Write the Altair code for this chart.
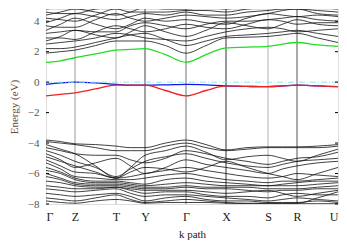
import altair as alt
import pandas as pd

# k-path positions (cumulative path length) and labels
k_pos = [0, 29, 70, 99, 140, 180, 222, 251, 292]
k_lab = ["Γ", "Z", "T", "Y", "Γ", "X", "S", "R", "U"]
# sampling points: high-symmetry points and midpoints
k = [0, 14.5, 29, 49.5, 70, 84.5, 99, 119.5, 140, 160, 180, 201, 222, 236.5, 251, 271.5, 292]

green = [1.3, 1.4, 1.6, 1.85, 2.1, 2.15, 2.2, 1.8, 1.3, 1.8, 2.25, 2.3, 2.35, 2.5, 2.6, 2.45, 2.35]
blue = [-0.15, -0.05, 0.0, -0.05, -0.15, -0.2, -0.2, -0.18, -0.15, -0.18, -0.25, -0.28, -0.3, -0.25, -0.2, -0.25, -0.3]
red = [-0.9, -0.8, -0.7, -0.45, -0.2, -0.2, -0.2, -0.55, -0.9, -0.55, -0.25, -0.28, -0.3, -0.25, -0.2, -0.25, -0.3]

cond = [
    [1.9, 2.0, 2.1, 2.4, 2.7, 2.7, 2.7, 2.4, 1.9, 2.4, 2.9, 2.95, 3.0, 3.1, 3.2, 2.9, 2.6],
    [2.2, 2.2, 2.3, 2.6, 2.9, 3.1, 3.2, 2.8, 2.4, 2.7, 3.0, 3.1, 3.2, 3.3, 3.4, 3.2, 3.0],
    [2.5, 2.6, 2.7, 2.9, 3.2, 3.1, 2.9, 2.8, 2.7, 3.0, 3.3, 3.5, 3.6, 3.5, 3.3, 3.4, 3.5],
    [2.7, 3.0, 3.4, 3.1, 2.9, 3.3, 3.7, 3.3, 3.0, 3.4, 3.9, 3.7, 3.5, 3.8, 4.1, 3.8, 3.7],
    [2.9, 2.9, 2.8, 3.3, 3.7, 3.5, 3.3, 3.5, 3.8, 3.6, 3.5, 3.8, 4.1, 4.0, 3.8, 3.9, 3.9],
    [3.2, 3.3, 3.4, 3.3, 3.3, 3.7, 3.9, 3.7, 3.5, 3.8, 4.0, 4.0, 4.1, 4.2, 4.3, 4.1, 4.0],
    [3.4, 3.8, 4.2, 3.8, 3.5, 3.8, 4.2, 4.0, 4.1, 3.9, 3.8, 4.2, 4.5, 4.4, 4.3, 4.4, 4.3],
    [3.7, 3.6, 3.6, 4.1, 4.5, 4.2, 4.0, 4.2, 4.4, 4.3, 4.2, 4.3, 4.5, 4.7, 4.8, 4.5, 4.4],
    [3.9, 4.2, 4.5, 4.3, 4.1, 4.3, 4.5, 4.4, 4.6, 4.4, 4.4, 4.6, 4.7, 4.8, 4.8, 4.7, 4.6],
    [4.2, 4.1, 4.0, 4.4, 4.8, 4.6, 4.6, 4.6, 4.7, 4.7, 4.6, 4.8, 4.9, 5.0, 5.0, 4.9, 4.8],
    [4.4, 4.6, 4.8, 4.6, 4.4, 4.6, 4.9, 4.8, 4.8, 4.9, 4.8, 5.0, 5.1, 5.2, 5.2, 5.1, 5.0],
    [4.6, 4.5, 4.5, 4.8, 4.9, 4.9, 5.0, 5.0, 4.9, 5.0, 5.0, 5.2, 5.3, 5.3, 5.3, 5.3, 5.2],
    [4.8, 4.9, 5.0, 5.1, 5.2, 5.2, 5.2, 5.1, 5.0, 5.1, 5.2, 5.3, 5.4, 5.4, 5.4, 5.4, 5.4],
]

val = [
    [-3.8, -3.9, -4.05, -4.1, -4.2, -4.3, -4.3, -4.0, -3.8, -4.1, -4.45, -4.3, -4.25, -4.25, -4.25, -4.2, -4.1],
    [-3.9, -4.0, -4.1, -4.3, -4.5, -4.5, -4.5, -4.2, -4.0, -4.3, -4.5, -4.4, -4.3, -4.3, -4.3, -4.3, -4.2],
    [-4.1, -4.4, -4.7, -5.5, -6.3, -5.6, -4.8, -4.5, -4.2, -4.6, -5.1, -4.9, -4.8, -5.0, -5.2, -4.8, -4.4],
    [-4.3, -4.5, -4.7, -4.8, -4.8, -5.1, -5.3, -5.0, -4.5, -4.7, -5.0, -5.2, -5.4, -5.2, -5.0, -4.9, -4.6],
    [-4.5, -4.8, -5.2, -5.6, -6.2, -5.7, -5.2, -4.9, -4.7, -5.0, -5.3, -5.5, -5.6, -5.4, -5.2, -5.1, -5.0],
    [-4.7, -5.1, -5.6, -5.3, -5.0, -5.5, -6.0, -5.6, -5.1, -5.4, -5.6, -5.8, -6.0, -5.7, -5.5, -5.3, -5.2],
    [-4.9, -5.2, -5.5, -5.9, -6.3, -5.9, -5.6, -5.7, -5.9, -5.6, -5.2, -5.6, -6.0, -6.2, -6.4, -6.0, -5.6],
    [-5.1, -5.5, -5.9, -6.0, -6.3, -6.2, -6.0, -5.8, -5.6, -5.8, -6.0, -6.2, -6.3, -6.2, -6.0, -6.1, -6.2],
    [-5.3, -5.7, -6.2, -6.3, -6.4, -6.4, -6.3, -6.1, -6.0, -6.2, -6.4, -6.5, -6.6, -6.5, -6.5, -6.4, -6.3],
    [-5.6, -5.9, -6.3, -6.5, -6.5, -6.6, -6.7, -6.4, -6.3, -6.5, -6.6, -6.7, -6.8, -6.7, -6.6, -6.5, -6.5],
    [-5.8, -6.0, -6.4, -6.6, -6.6, -6.7, -6.8, -6.7, -6.6, -6.7, -6.8, -6.8, -6.8, -6.8, -6.8, -6.7, -6.6],
    [-6.0, -6.3, -6.6, -6.7, -6.7, -6.8, -6.9, -6.9, -6.8, -6.9, -6.9, -6.9, -7.0, -7.0, -7.0, -6.9, -6.8],
    [-6.2, -6.4, -6.7, -6.8, -6.8, -6.9, -7.0, -7.0, -6.9, -7.0, -7.0, -7.1, -7.2, -7.1, -7.1, -7.0, -7.0],
    [-6.5, -6.6, -6.8, -6.9, -6.9, -7.0, -7.1, -7.1, -7.1, -7.2, -7.3, -7.2, -7.1, -7.3, -7.5, -7.3, -7.1],
    [-6.8, -6.9, -7.0, -7.0, -6.9, -7.1, -7.3, -7.2, -7.2, -7.4, -7.5, -7.5, -7.6, -7.4, -7.3, -7.4, -7.4],
    [-7.0, -7.1, -7.2, -7.1, -7.0, -7.3, -7.5, -7.4, -7.4, -7.5, -7.6, -7.7, -7.8, -7.7, -7.6, -7.7, -7.8],
    [-7.3, -7.4, -7.5, -7.4, -7.3, -7.5, -7.8, -7.6, -7.5, -7.7, -7.8, -7.8, -7.9, -7.9, -7.9, -7.8, -7.9],
    [-7.6, -7.7, -7.8, -7.6, -7.4, -7.7, -7.9, -7.8, -7.7, -7.8, -7.9, -7.95, -7.95, -7.95, -7.95, -7.6, -7.2],
    [-7.8, -7.9, -7.95, -7.8, -7.7, -7.8, -7.95, -7.9, -7.9, -7.9, -7.95, -7.98, -7.98, -7.98, -7.98, -7.98, -7.98],
]

vline_k = [29, 70, 99, 140, 180, 222, 251]
vline_col = ["#9a9a9a", "#b0b0b0", "#444444", "#707070", "#333333", "#b0b0b0", "#555555"]
y_ticks = [-8, -6, -4, -2, 0, 2, 4]

rows = []
for i, b in enumerate(cond + val):
    for kk, e in zip(k, b):
        rows.append({"k": kk, "E": e, "band": f"b{i}"})
bands = pd.DataFrame(rows)

def single(vals, name):
    return pd.DataFrame({"k": k, "E": vals, "band": name})

lab_map = "{" + ",".join(f"'{p}':'{l}'" for p, l in zip(k_pos, k_lab)) + "}"

xscale = alt.Scale(domain=[0, 292], nice=False, zero=False)
yscale = alt.Scale(domain=[-8, 4.8], nice=False, zero=False)

x_axis = alt.Axis(
    values=k_pos, labelExpr=f"{lab_map}[datum.value]", title="k path", labelOverlap=False,
    grid=False, ticks=False, domain=False, labelPadding=7, titlePadding=6,
    labelFont="Liberation Serif", labelFontSize=12, labelColor="#222222",
    titleFont="Liberation Serif", titleFontSize=11, titleFontWeight="normal", titleColor="#222222")
y_axis = alt.Axis(
    values=y_ticks, labelExpr="replace(format(datum.value,'d'),'-','\u2212')", labelOverlap=False,
    title="Energy (eV)", grid=False, ticks=False, domain=False, labelPadding=7, titlePadding=8,
    labelFont="Liberation Serif", labelFontSize=11, labelColor="#555555",
    titleFont="Liberation Serif", titleFontSize=11, titleFontWeight="normal", titleColor="#6a4a44")

X = lambda: alt.X("k:Q", scale=xscale, axis=x_axis)
Y = lambda: alt.Y("E:Q", scale=yscale, axis=y_axis)

vl = alt.Chart(pd.DataFrame({"k": vline_k, "c": vline_col})).mark_rule(strokeWidth=1).encode(
    x=X(), color=alt.Color("c:N", scale=None))

black = alt.Chart(bands).mark_line(interpolate="monotone", clip=True, color="#111111", strokeWidth=0.8).encode(
    x=X(), y=Y(), detail="band:N")

g = alt.Chart(single(green, "g")).mark_line(interpolate="monotone", clip=True, color="#22dd22", strokeWidth=1.3).encode(
    x=X(), y=Y())
bl = alt.Chart(single(blue, "bl")).mark_line(interpolate="monotone", clip=True, color="#1515ee", strokeWidth=1.3).encode(
    x=X(), y=Y())
rd = alt.Chart(single(red, "rd")).mark_line(interpolate="monotone", clip=True, color="#ee2222", strokeWidth=1.3).encode(
    x=X(), y=Y())

fermi = alt.Chart(pd.DataFrame({"E": [0]})).mark_rule(color="#88e8f0", strokeWidth=1, strokeDash=[6, 2, 1, 2]).encode(
    y=Y())

tk = pd.DataFrame({"E": y_ticks})
lt = alt.Chart(tk).mark_rule(color="black").encode(
    y=Y(), x=alt.value(0), x2=alt.value(3))
rt = alt.Chart(tk).mark_rule(color="black").encode(
    y=Y(), x=alt.value(292), x2=alt.value(289))

chart = alt.layer(vl, black, bl, rd, g, fermi, lt, rt).properties(
    width=292, height=195,
    autosize=alt.AutoSizeParams(type="none"),
    padding={"left": 38, "top": 1, "right": 1, "bottom": 38},
).configure_view(stroke="black", strokeWidth=1).configure_axis(labelOverlap=False).configure(background="white")

chart.save("out.html", embed_options={"renderer": "svg", "actions": False})
